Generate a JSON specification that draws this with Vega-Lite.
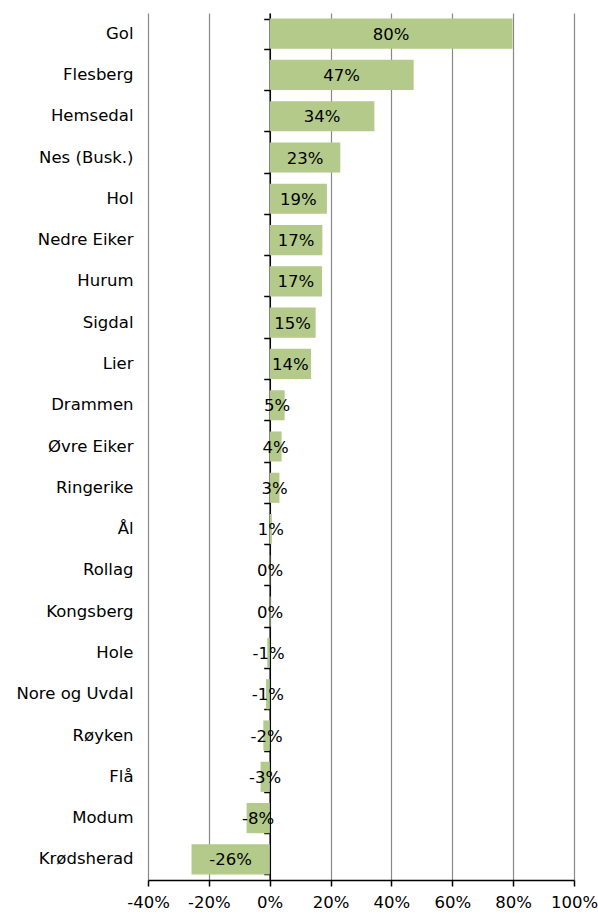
{
  "$schema": "https://vega.github.io/schema/vega-lite/v6.json",
  "width": 426,
  "height": 867,
  "autosize": {"type": "none"},
  "padding": {"left": 148, "top": 13, "right": 24, "bottom": 35},
  "background": "white",
  "config": {
    "view": {"stroke": null},
    "font": "DejaVu Sans",
    "axis": {"labelFont": "DejaVu Sans", "labelColor": "#000000"}
  },
  "data": {
    "values": [
      {"kommune": "Gol", "v": 79.8},
      {"kommune": "Flesberg", "v": 47.3},
      {"kommune": "Hemsedal", "v": 34.4},
      {"kommune": "Nes (Busk.)", "v": 23.2},
      {"kommune": "Hol", "v": 18.8},
      {"kommune": "Nedre Eiker", "v": 17.3},
      {"kommune": "Hurum", "v": 17.2},
      {"kommune": "Sigdal", "v": 15.1},
      {"kommune": "Lier", "v": 13.6},
      {"kommune": "Drammen", "v": 4.9},
      {"kommune": "Øvre Eiker", "v": 3.9},
      {"kommune": "Ringerike", "v": 3.2},
      {"kommune": "Ål", "v": 0.7},
      {"kommune": "Rollag", "v": 0.2},
      {"kommune": "Kongsberg", "v": 0.3},
      {"kommune": "Hole", "v": -0.8},
      {"kommune": "Nore og Uvdal", "v": -1.2},
      {"kommune": "Røyken", "v": -2.1},
      {"kommune": "Flå", "v": -3.0},
      {"kommune": "Modum", "v": -7.6},
      {"kommune": "Krødsherad", "v": -25.7}
    ]
  },
  "transform": [
    {"calculate": "datum.v / 2", "as": "mid"},
    {"calculate": "round(datum.v) + '%'", "as": "label"}
  ],
  "encoding": {
    "y": {
      "field": "kommune",
      "type": "nominal",
      "sort": null,
      "scale": {"paddingInner": 0.27, "paddingOuter": 0.135}
    }
  },
  "layer": [
    {
      "mark": {"type": "bar", "color": "#b3ca8a"},
      "encoding": {
        "x": {
          "field": "v",
          "type": "quantitative",
          "scale": {"domain": [-40, 100], "nice": false, "zero": false},
          "axis": {
            "title": null,
            "values": [-40, -20, 0, 20, 40, 60, 80, 100],
            "labelExpr": "datum.value + '%'",
            "labelFontSize": 16.5,
            "labelPadding": 8,
            "labelOverlap": false,
            "labelBound": false,
            "labelFlush": false,
            "grid": true,
            "gridColor": "#888888",
            "gridWidth": 1.2,
            "domainColor": "#000000",
            "domainWidth": 1.5,
            "tickColor": "#000000",
            "tickWidth": 1.5,
            "tickSize": 6
          }
        },
        "y": {
          "field": "kommune",
          "type": "nominal",
          "sort": null,
          "axis": {
            "title": null,
            "domain": false,
            "ticks": false,
            "labelFontSize": 16.5,
            "labelPadding": 15
          }
        }
      }
    },
    {
      "mark": {"type": "text", "fontSize": 16.5, "color": "#000000", "align": "center", "baseline": "middle", "dy": 1},
      "encoding": {
        "x": {"field": "mid", "type": "quantitative"},
        "text": {"field": "label"},
        "y": {
          "field": "kommune",
          "type": "nominal",
          "sort": null,
          "axis": {
            "title": null,
            "orient": "left",
            "offset": -121.7,
            "labels": false,
            "grid": false,
            "domain": true,
            "domainColor": "#000000",
            "domainWidth": 1.5,
            "ticks": true,
            "tickBand": "extent",
            "tickColor": "#000000",
            "tickWidth": 1.5,
            "tickSize": 6
          }
        }
      }
    }
  ],
  "resolve": {"axis": {"y": "independent"}}
}
